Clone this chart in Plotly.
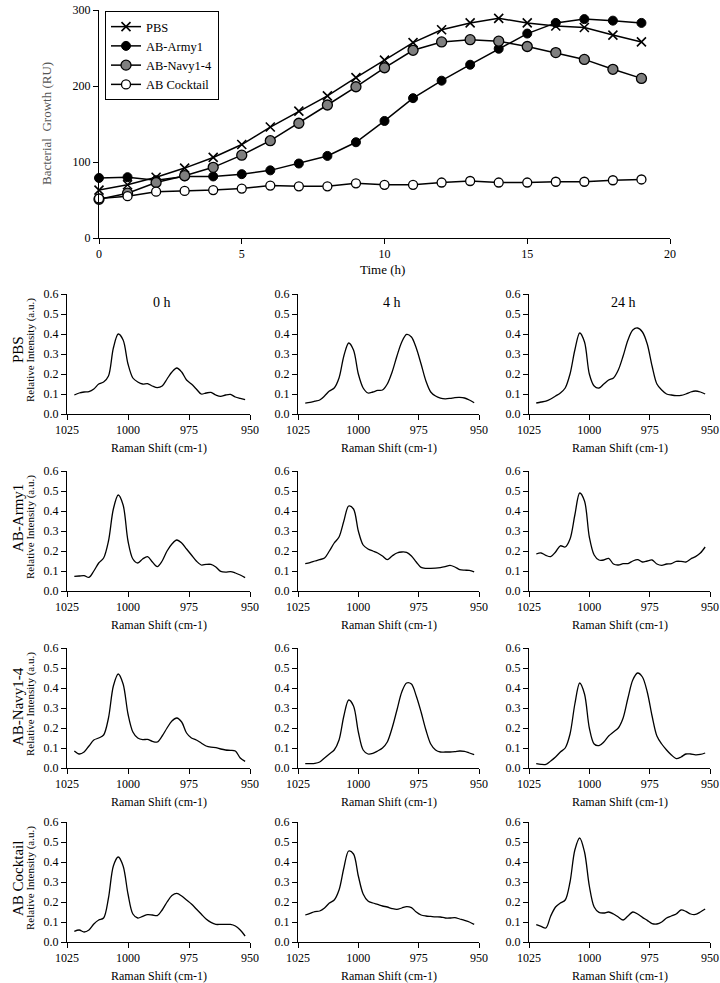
import plotly.graph_objects as go

# ---------------- data: growth curves ----------------
hours = [0, 1, 2, 3, 4, 5, 6, 7, 8, 9, 10, 11, 12, 13, 14, 15, 16, 17, 18, 19]
growth_pbs = [63, 70, 80, 92, 106, 123, 146, 167, 187, 211, 234, 257, 274, 283, 289, 283, 279, 277, 267, 258]
growth_army = [79, 80, 76, 81, 81, 84, 89, 98, 108, 126, 154, 184, 207, 228, 249, 269, 283, 288, 286, 283]
growth_navy = [51, 59, 73, 82, 93, 109, 128, 151, 175, 199, 224, 247, 258, 261, 259, 252, 244, 235, 222, 210]
growth_cocktail = [52, 55, 61, 62, 63, 65, 69, 68, 68, 72, 70, 70, 73, 75, 73, 73, 74, 74, 76, 77]

# ---------------- data: Raman spectra ----------------
raman_shift = [1022, 1020, 1018, 1016, 1014, 1012, 1010, 1008, 1006, 1004, 1002, 1000,
               998, 996, 994, 992, 990, 988, 986, 984, 982, 980, 978, 976, 974, 972,
               970, 968, 966, 964, 962, 960, 958, 956, 954, 952]

pbs_0h = [0.095, 0.105, 0.11, 0.112, 0.125, 0.15, 0.16, 0.19, 0.33, 0.40, 0.37, 0.25,
          0.18, 0.16, 0.15, 0.152, 0.14, 0.132, 0.14, 0.175, 0.21, 0.23, 0.21, 0.17, 0.15, 0.125,
          0.10, 0.105, 0.108, 0.095, 0.088, 0.095, 0.098, 0.085, 0.078, 0.072]
pbs_4h = [0.054, 0.058, 0.064, 0.07, 0.09, 0.115, 0.13, 0.18, 0.29, 0.355, 0.32, 0.20,
          0.13, 0.105, 0.11, 0.118, 0.12, 0.15, 0.21, 0.29, 0.36, 0.398, 0.385, 0.33, 0.25, 0.165,
          0.11, 0.09, 0.08, 0.076, 0.078, 0.082, 0.083, 0.08, 0.07, 0.056]
pbs_24h = [0.055, 0.06, 0.064, 0.075, 0.09, 0.105, 0.13, 0.2, 0.32, 0.405, 0.36, 0.2,
           0.14, 0.13, 0.15, 0.17, 0.18, 0.22, 0.29, 0.37, 0.42, 0.43, 0.41, 0.35, 0.24, 0.15,
           0.12, 0.1, 0.095, 0.092, 0.093, 0.1, 0.11, 0.115, 0.11, 0.1]
army_0h = [0.073, 0.075, 0.077, 0.068, 0.1, 0.14, 0.165, 0.25, 0.41, 0.48, 0.43, 0.25,
           0.16, 0.14, 0.16, 0.172, 0.145, 0.122, 0.15, 0.2, 0.235, 0.255, 0.24, 0.21, 0.18, 0.15,
           0.13, 0.133, 0.133, 0.12, 0.098, 0.094, 0.097, 0.09, 0.08, 0.067]
army_4h = [0.137, 0.142, 0.15, 0.157, 0.165, 0.2, 0.24, 0.27, 0.35, 0.425, 0.41, 0.3,
           0.23, 0.21, 0.2, 0.19, 0.175, 0.157, 0.175, 0.19, 0.195, 0.193, 0.175, 0.145, 0.118, 0.113,
           0.113, 0.114, 0.117, 0.122, 0.128, 0.12, 0.107, 0.104, 0.103, 0.096]
army_24h = [0.185, 0.19, 0.178, 0.172, 0.195, 0.226, 0.22, 0.26, 0.38, 0.49, 0.45, 0.27,
            0.18, 0.155, 0.155, 0.163, 0.135, 0.13, 0.137, 0.137, 0.15, 0.157, 0.145, 0.15, 0.155, 0.135,
            0.128, 0.135, 0.137, 0.148, 0.148, 0.145, 0.16, 0.172, 0.19, 0.22]
navy_0h = [0.085, 0.07, 0.08, 0.11, 0.14, 0.15, 0.165, 0.25, 0.41, 0.47, 0.42, 0.27,
           0.18, 0.15, 0.142, 0.143, 0.133, 0.13, 0.16, 0.2, 0.235, 0.25, 0.23, 0.175, 0.15, 0.14,
           0.125, 0.11, 0.104, 0.102, 0.095, 0.09, 0.088, 0.085, 0.05, 0.033]
navy_4h = [0.022, 0.022, 0.023, 0.03, 0.05, 0.07, 0.09, 0.14, 0.26, 0.34, 0.31, 0.18,
           0.09, 0.07, 0.073, 0.085, 0.1, 0.13, 0.2, 0.29, 0.38, 0.425, 0.42, 0.36, 0.28, 0.19,
           0.12, 0.09, 0.08, 0.08, 0.08, 0.082, 0.085, 0.083, 0.075, 0.067]
navy_24h = [0.022, 0.018, 0.018, 0.035, 0.055, 0.08, 0.1, 0.17, 0.32, 0.425, 0.37, 0.2,
            0.12, 0.112, 0.13, 0.16, 0.18, 0.2, 0.25, 0.35, 0.44, 0.475, 0.455, 0.38, 0.26, 0.16,
            0.12, 0.09, 0.065, 0.047, 0.055, 0.07, 0.07, 0.066, 0.068, 0.075]
cocktail_0h = [0.053, 0.06, 0.05, 0.06, 0.09, 0.11, 0.12, 0.22, 0.38, 0.425, 0.38, 0.24,
               0.14, 0.12, 0.128, 0.137, 0.135, 0.132, 0.16, 0.2, 0.232, 0.243, 0.23, 0.21, 0.19, 0.165,
               0.14, 0.115, 0.098, 0.088, 0.088, 0.088, 0.088, 0.08, 0.06, 0.03]
cocktail_4h = [0.135, 0.143, 0.152, 0.155, 0.17, 0.195, 0.21, 0.26, 0.37, 0.455, 0.44, 0.33,
               0.24, 0.205, 0.195, 0.188, 0.18, 0.175, 0.167, 0.163, 0.17, 0.177, 0.172, 0.15, 0.135, 0.13,
               0.128, 0.126, 0.125, 0.12, 0.12, 0.122, 0.115, 0.108, 0.1, 0.088]
cocktail_24h = [0.087, 0.078, 0.07, 0.13, 0.175, 0.195, 0.21, 0.3, 0.46, 0.52, 0.45, 0.28,
                0.175, 0.148, 0.145, 0.15, 0.14, 0.125, 0.11, 0.13, 0.15, 0.14, 0.123, 0.108, 0.092, 0.09,
                0.1, 0.12, 0.13, 0.14, 0.16, 0.153, 0.14, 0.138, 0.15, 0.165]

row_labels = ["PBS", "AB-Army1", "AB-Navy1-4", "AB Cocktail"]
col_labels = ["0 h", "4 h", "24 h"]
spectra = [[pbs_0h, pbs_4h, pbs_24h],
           [army_0h, army_4h, army_24h],
           [navy_0h, navy_4h, navy_24h],
           [cocktail_0h, cocktail_4h, cocktail_24h]]

# ---------------- layout helpers ----------------
W, H = 720, 983
FONT = "Liberation Serif, Times New Roman, serif"


def xd(a, b):
    return [a / W, b / W]


def yd(top, bottom):
    return [1 - bottom / H, 1 - top / H]


def note(text, px, py, size, angle=0, color="black"):
    return dict(text=text, x=px / W, y=1 - py / H, xref="paper", yref="paper",
                xanchor="center", yanchor="middle", showarrow=False, textangle=angle,
                font=dict(family=FONT, size=size, color=color))


fig = go.Figure()

# ---- top growth chart ----
mk_line = dict(color="black", width=1.5)
fig.add_trace(go.Scatter(x=hours, y=growth_pbs, mode="lines+markers", name="PBS",
                         line=mk_line, cliponaxis=False,
                         marker=dict(symbol="x-thin-open", size=9, color="black",
                                     line=dict(color="black", width=1.6))))
fig.add_trace(go.Scatter(x=hours, y=growth_army, mode="lines+markers", name="AB-Army1",
                         line=mk_line, cliponaxis=False,
                         marker=dict(symbol="circle", size=9, color="black",
                                     line=dict(color="black", width=1))))
fig.add_trace(go.Scatter(x=hours, y=growth_navy, mode="lines+markers", name="AB-Navy1-4",
                         line=mk_line, cliponaxis=False,
                         marker=dict(symbol="circle", size=10, color="#7f7f7f",
                                     line=dict(color="black", width=1.3))))
fig.add_trace(go.Scatter(x=hours, y=growth_cocktail, mode="lines+markers", name="AB Cocktail",
                         line=mk_line, cliponaxis=False,
                         marker=dict(symbol="circle", size=9, color="white",
                                     line=dict(color="black", width=1.3))))

axis_common = dict(showline=True, linecolor="black", linewidth=1, ticks="outside",
                   ticklen=5, tickwidth=1, tickcolor="black", showgrid=False,
                   zeroline=False, automargin=False,
                   tickfont=dict(family=FONT, size=12, color="black"))

layout = dict(
    width=W, height=H, autosize=False,
    margin=dict(l=0, r=0, t=0, b=0, pad=0, autoexpand=False),
    paper_bgcolor="white", plot_bgcolor="white",
    font=dict(family=FONT, color="black"),
    showlegend=True,
    legend=dict(x=105 / W, y=1 - 11 / H, xanchor="left", yanchor="top",
                bordercolor="black", borderwidth=1, bgcolor="white",
                font=dict(family=FONT, size=12.5, color="black"),
                tracegroupgap=0, itemwidth=30),
    xaxis=dict(domain=xd(99, 670), range=[0, 20], tickvals=[0, 5, 10, 15, 20],
               anchor="y", **axis_common),
    yaxis=dict(domain=yd(10, 238), range=[0, 300], tickvals=[0, 100, 200, 300],
               anchor="x", **axis_common),
)

annotations = [
    note("Time (h)", 382, 269, 13),
    note("Bacterial  Growth (RU)", 47, 124, 13, angle=-90, color="#555555"),
]

cols = [(67, 250), (298, 479), (529, 710)]
rows = [(294, 414), (471, 591), (648, 768), (822, 942)]
row_label_y = [350, 518, 707, 879]

n = 2
for r, (ytop, ybot) in enumerate(rows):
    for c, (xl, xr) in enumerate(cols):
        xa = "xaxis%d" % n
        ya = "yaxis%d" % n
        fig.add_trace(go.Scatter(x=raman_shift, y=spectra[r][c], mode="lines",
                                 line=dict(color="black", width=1.3, shape="spline", smoothing=0.9),
                                 xaxis="x%d" % n, yaxis="y%d" % n, showlegend=False))
        layout[xa] = dict(domain=xd(xl, xr), range=[1025, 950], tickvals=[1025, 1000, 975, 950],
                          anchor="y%d" % n, **axis_common)
        layout[ya] = dict(domain=yd(ytop, ybot), range=[0, 0.6],
                          tickvals=[0, 0.1, 0.2, 0.3, 0.4, 0.5, 0.6], tickformat=".1f",
                          anchor="x%d" % n, **axis_common)
        annotations.append(note("Raman Shift (cm-1)", (xl + xr) / 2, ybot + 34, 12))
        if c == 0:
            annotations.append(note("Relative Intensity (a.u.)", 30, (ytop + ybot) / 2 - 4, 11, angle=-90))
        if r == 0:
            annotations.append(note(col_labels[c], xl + (xr - xl) * 0.52, 302, 14))
        n += 1
    annotations.append(note(row_labels[r], 18, row_label_y[r], 15, angle=-90))

layout["annotations"] = annotations
fig.update_layout(**layout)
# remove the browser's default 8px page margin so the figure fills the window exactly
fig.write_html("out.html",
               config={"displayModeBar": False},
               post_script="document.body.style.margin='0px';document.body.style.overflow='hidden';")
